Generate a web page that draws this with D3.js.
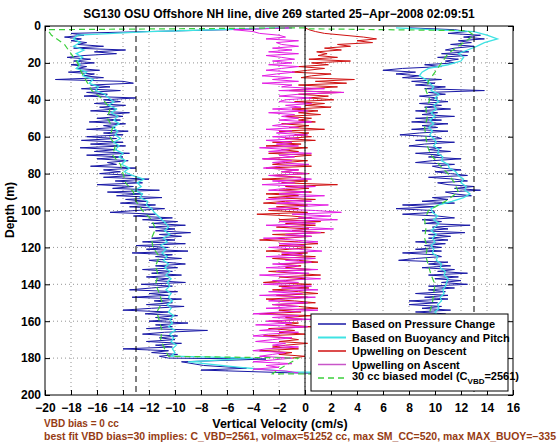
<!DOCTYPE html>
<html><head><meta charset="utf-8">
<script src="https://cdn.jsdelivr.net/npm/d3@7"></script>
<style>
body{margin:0;background:#fff;}
svg{display:block;font-family:"Liberation Sans",Arial,sans-serif;font-weight:bold;}
</style></head>
<body><svg id="c" width="560" height="442"></svg>
<script>
// ---------------- data (velocity in cm/s, depth in m) ----------------
const xTicks = [-20,-18,-16,-14,-12,-10,-8,-6,-4,-2,0,2,4,6,8,10,12,14,16];
const yTicks = [0,20,40,60,80,100,120,140,160,180,200];
const limitLines = [-13, 13];

// Based on Pressure Change: descent, one value per metre from 1 m
const blueDescent = [
 -1,-6,-12,-18,-17,-18.5,-17.2,-18,-16.8,-17.5,
 -15.5,-17.8,-13.8,-16.2,-14.5,-17,-18.3,-16.5,-17.8,-16.2,
 -18,-16.8,-17.5,-15.8,-18.2,-16.2,-17,-15.5,-19.2,-14,
 -13.2,-16.5,-15,-17.2,-14.2,-16.8,-15.2,-17,-13,-15.5,
 -14.2,-16.2,-13.8,-15.8,-14.5,-16.5,-13.5,-15.2,-14,-16,
 -14.2,-16.6,-13.8,-15.5,-14.6,-16.8,-13.6,-15.5,-14,-16.8,
 -14.5,-17.2,-14,-16.5,-13.8,-17.3,-14.5,-16.2,-13.5,-16.8,
 -14,-16,-13.6,-15.2,-14.5,-16.5,-13,-15.5,-14.2,-15.8,
 -13.2,-15.5,-12,-14.6,-12.5,-16,-13.2,-14.8,-11.2,-15.2,
 -12.5,-14.5,-11,-13.8,-12.2,-14.2,-11.5,-13.5,-10.8,-13,
 -15,-11.5,-13.2,-10.2,-12.5,-9.8,-11.8,-9.2,-12,-10,
 -11.5,-8.8,-11.2,-9.5,-11.8,-10,-12.5,-9.2,-13,-10.5,
 -12.2,-9,-13.3,-10.2,-11.5,-9.5,-12,-10.8,-9.2,-11.5,
 -9.8,-12.5,-10.2,-11.8,-9.5,-12.2,-10.5,-11.5,-9.2,-12.6,
 -10.2,-11.8,-13.5,-9.8,-12,-10.5,-13.3,-9.5,-11.6,-10.2,
 -12.2,-9.3,-11.8,-14,-10.5,-12.3,-9.8,-11.5,-10.2,-12,
 -9,-11.5,-10.2,-12.2,-7.5,-10.8,-12.5,-9.8,-11.2,-10,
 -12.2,-9.5,-11.5,-10.2,-14,-10.5,-11.8,-9.8,-11.2,-10.5];
// turnaround at the bottom [depth, velocity]
const blueApogee = [[180.5,-3],[182,-9.5],[184,-7.8],[185.5,-4.5],[186.5,-8],[188,-1],[189,9]];
// ascent, one value per metre from 1 m
const blueAscent = [
 8,11.5,12.5,11,13.5,12.2,13.8,11.8,12.8,11.2,
 13,11.5,10.8,12.6,10.5,12.5,10.2,11.8,10.8,11.5,
 9.2,10.5,7.5,6,8.5,7,8.8,7.5,10.5,8.2,
 10,8.5,10.8,9.2,13.8,9.5,10.8,8.8,10.2,9.5,
 11,8.8,10.5,9.2,11.2,8.5,10.2,9,11.5,8.5,
 10.5,8.2,11,9,10.2,8.2,11,8.8,7.3,10,
 10.5,8.5,11.5,9.2,8,10.5,9.5,11.2,8.5,10.5,
 9.5,12,9.8,8.5,11.5,9.8,10.5,12,10,11.2,
 12.5,9.5,11.5,12.5,10.2,11,13,11.5,13.5,10.8,
 11.5,12.8,9.8,11,9,11.5,7.5,10,7,9.8,
 10,7.5,10.2,11.5,9,10.5,9.2,12.7,9.8,11,
 9,12.3,9.5,11.2,9.5,11,8.5,10.8,9.2,10.5,
 8.5,10.5,7.5,10,10.5,8.5,7.2,11,9.5,11.2,
 9,11.5,10.2,12.5,9.5,11.8,10,12,10.5,12.5,
 9.5,11.5,9.5,10.8,8.5,11,9.2,11,8,10.2,
 8,10.5,9,11.2,8.5,10.8,11,9,10.5,9.2,
 10.5,9,11,9.5,11.2,9.5,10.5,9,11,9.5,
 9,11,9.5,10.8,9.5,10.5,9.2,10.5,9.5,10.2,
 10,9,10.5,8.5,8,6,4,2];

// Based on Buoyancy and Pitch, one value every 2 m from 1 m
const cyanDescent = [
 -2,-12,-17.5,-17.8,-17.3,-17.8,-17,-17.6,-17.1,-17.5,
 -17.3,-17.6,-16.8,-17.1,-16.3,-16.6,-15.9,-16.1,-15.4,-15.1,
 -14.7,-15.1,-14.5,-14.9,-14.4,-14.7,-14.3,-14.8,-14.4,-14.6,
 -14.2,-14.7,-14.3,-14.6,-14.0,-14.3,-13.8,-14.1,-13.5,-13.9,
 -13.3,-12.4,-12.9,-12.6,-13.1,-12.5,-12.7,-12.1,-12.2,-11.8,
 -11.6,-11.3,-11,-10.7,-10.5,-10.8,-10.4,-10.9,-10.6,-11.1,
 -10.7,-11,-10.6,-10.9,-10.5,-10.8,-10.4,-10.7,-10.3,-10.6,
 -10.4,-10.7,-10.3,-10.5,-10.2,-10.6,-10.3,-10.5,-10.1,-10.4,
 -10.2,-10.5,-10,-10.4,-10.1,-10.3,-9.9,-10.2,-10,-10.3];
const cyanApogee = [[180,-4],[182,-9],[185,-5],[187.5,-1],[188.5,8]];
const cyanAscent = [
 7,13,14,14.8,13.8,13.2,12.5,11.8,12.2,12,
 11,9.5,9,8.8,9.3,9.6,9.9,9.7,10.3,10,
 10.3,9.9,10.1,9.7,10,9.6,9.9,9.5,9.8,9.6,
 9.9,10.1,9.9,10.3,10.2,10.6,10.5,11,11.1,11.6,
 11.8,12.2,12,12.4,12.3,12.7,12.2,11.3,10.3,9.7,
 9.8,10.2,9.9,10.3,10,9.7,10.1,9.8,10,9.7,
 9.9,9.8,10.2,10.1,10.5,10.4,10.8,10.7,11,10.9,
 10.8,10.6,10.7,10.4,10.5,10.2,10.3,10,10.2,10,
 10.1,9.9,10.2,10,10.1,9.8,10,9.9,10.1,10,
 9.6,9,8,6];

// Upwelling on Descent, one value per metre from 1 m
const redDescent = [
 0,0.3,0.8,1.5,3,4.5,5.5,4,5.2,2.5,
 3.5,1.5,2.8,0.9,1.7,1,2.5,0.3,3.5,0.5,
 1.8,-0.5,1.5,0.2,-1,2,0.5,-0.3,3.8,0.8,
 3.2,-0.5,2.5,0.2,-1.2,2.8,-0.5,1.8,0.3,2.2,
 -0.8,1.5,0,2,-1,1,-0.5,1.2,-1.5,0.5,
 -0.5,0.8,-1.8,0.3,-1.2,1.5,-2,0.3,-0.8,0.5,
 -1.5,0.8,-2.5,-0.3,-3,0.2,-1.8,-0.5,-2.8,0.5,
 -1.2,-3.2,0.2,-1.5,-2.5,0.5,-3,-0.5,-1.8,0.3,
 -2.5,-0.3,-3.3,0.2,-1.8,2.5,-1.5,0.3,-2,0.5,
 -3,-0.5,-2.8,0.8,-1.5,-3.2,0.2,-2.2,-0.5,-2.8,
 0.2,-3.7,-1,0.5,-2,1.2,-1.5,0.8,-2.2,0.3,
 -1,1.5,-2.5,0.5,-1.5,-3.5,-0.5,1,-2,0.5,
 -1.2,-3,0.2,-1.8,0.8,-2.5,-0.5,1,-2,-0.3,
 -1.5,0.5,-2.8,-0.8,1.2,-2,0,-1.5,-3.2,0.5,
 -2,0.3,-2.5,-0.5,1,-2.2,0.2,-3,-0.8,0.8,
 -2.5,-0.5,1,-2,-0.3,-3.5,0.5,-1.5,-0.2,-2.8,
 -0.5,-1.5,0.5,-2.8,-0.8,-2,0,-3.2,-1.5,-0.5,
 -2,0.2,-1.5,-2.5,-0.5,-3.5,-1,-2,0,-1];

// Upwelling on Ascent, one value per metre from 1 m
const magentaAscent = [
 -1,-5.5,-4,-3.5,-2,-1.5,-3,-0.5,-2.2,-1.8,
 -0.5,-2.5,-1,-2.8,-0.5,-3,-1.8,-0.8,-2.5,-1,
 -2.8,-0.5,-1.8,-3,-0.8,-2.2,-3.3,-1,-2.5,-0.5,
 -3.3,-1,-1.8,1.5,-2,3,-0.5,-2,0.5,-1.5,
 -2,0.5,-1.5,-0.3,-2.5,0.2,-2.8,-0.8,-1.8,-0.5,
 -2,0.5,-1.5,-2.5,-0.5,-3,-1,-2.2,0.2,-2.5,
 -0.5,-3,-1,-2.2,-0.5,-3.5,-1.2,-2.8,0.5,-2,
 -0.8,-3.3,-1,-2.5,0.3,-2,-3.2,-0.5,-1.8,0.2,
 -2.8,-1,0.5,-2.5,-0.8,-3.3,0.8,-1.5,-2.8,0.3,
 -2,1.5,-1.5,-3,0.5,-2.2,1.8,-0.5,-2.8,0.8,
 2.8,-1,2,-0.5,2.5,-2,0.8,-3,-0.3,2.2,
 -2.5,1.2,-1.5,0.5,-3.2,-0.8,1,-2,0,-2.8,
 -0.5,1.3,-1.8,-0.2,-3,0.8,-1.5,0.5,-2.5,-0.5,
 -3,1,-2.2,0.3,-3.5,-1,1.2,-2.5,-0.5,-3.2,
 0.5,-1.8,1,-2.8,-0.2,-3.5,0.8,-1.5,-2.8,0.2,
 -2.5,-0.5,-3,1,-1.8,-4,-0.5,-2.5,0.5,-3,
 -1,-3.8,0.2,-2,-3.5,-0.5,-2.8,-4,-1,-2.5,
 -3.8,-1.5,-2.5,-0.5,-3,-4,-1.5,-2.5,-3.5,-1,
 -2.5,-4,-1,-3,-2,-4,-1.5,-0.5];

// 30 cc biased model, one value every 5 m from 5 m
const greenSurface = [[1,0],[2,-19.8]];
const greenDescent = [-19.5,-18.5,-18,-17.5,-17.2,-16.8,-16.4,-15.5,-15,-15.2,
 -14.8,-15,-14.6,-14.8,-14.2,-14,-13.8,-13.2,-13,-12.5,
 -11.8,-11.5,-11.8,-11.7,-11.2,-11.5,-11.3,-11.5,-11.2,-11,
 -11.4,-11.2,-11,-11.1,-10.8];
const greenApogee = [[179,-10.5],[180,-0.5],[186,-2],[188.5,-2.5],[189,9]];
const greenAscent = [13,12,11,10.5,10,9.5,9.3,9.6,9.3,9.4,
 9.2,9.3,9.4,9.7,10.3,11,11.5,11.8,10.8,9.5,
 9.2,9.3,9.2,9.4,9.3,9.5,9.7,10,9.9,9.8,
 9.6,9.7,9.5,9.6,9.4,9.5,9];
const greenTop = [[2.5,12.5],[1.5,0]];

const legendLabels = ["Based on Pressure Change","Based on Buoyancy and Pitch","Upwelling on Descent","Upwelling on Ascent"];
const titleText = "SG130 OSU Offshore NH line, dive 269 started 25\u2212Apr\u22122008 02:09:51";
const noteLines = ["VBD bias = 0 cc","best fit VBD bias=30 implies: C_VBD=2561, volmax=51252 cc, max SM_CC=520, max MAX_BUOY=\u2212335"];

// ---------------- build series ----------------
const grid = (arr, start, step) => arr.map((v,i)=>[start+i*step, v]);
const bluePts = grid(blueDescent,1,1).concat(blueApogee, grid(blueAscent,1,1).reverse());
const cyanPts = grid(cyanDescent,1,2).concat(cyanApogee, grid(cyanAscent,1,2).reverse());
const redPts = grid(redDescent,1,1);
const magPts = grid(magentaAscent,1,1);
const greenPts = greenSurface.concat(grid(greenDescent,5,5), greenApogee, grid(greenAscent,5,5).reverse(), greenTop);

// ---------------- drawing ----------------
const L=45,R=513,T=26,B=395;
const svg=d3.select("#c");
svg.append("rect").attr("width",560).attr("height",442).attr("fill","#fff");
const x=d3.scaleLinear().domain([-20,16]).range([L,R]);
const y=d3.scaleLinear().domain([0,200]).range([T,B]);

svg.append("defs").append("clipPath").attr("id","clip")
  .append("rect").attr("x",L).attr("y",T).attr("width",R-L).attr("height",B-T);

// grid
const g=svg.append("g").attr("stroke","#777").attr("stroke-width",0.8).attr("stroke-dasharray","1,3");
xTicks.slice(1,-1).forEach(t=>g.append("line").attr("x1",x(t)).attr("x2",x(t)).attr("y1",T).attr("y2",B));
yTicks.slice(1,-1).forEach(t=>g.append("line").attr("x1",L).attr("x2",R).attr("y1",y(t)).attr("y2",y(t)));

const plot=svg.append("g").attr("clip-path","url(#clip)");
const line=d3.line().x(d=>x(d[1])).y(d=>y(d[0]));
plot.append("path").datum(bluePts).attr("d",line).attr("fill","none").attr("stroke","#1818a6").attr("stroke-width",1);
plot.append("path").datum(cyanPts).attr("d",line).attr("fill","none").attr("stroke","#3fe3e3").attr("stroke-width",1.3);
plot.append("path").datum(redPts).attr("d",line).attr("fill","none").attr("stroke","#d01010").attr("stroke-width",1);
plot.append("path").datum(magPts).attr("d",line).attr("fill","none").attr("stroke","#e41ee4").attr("stroke-width",1);
plot.append("path").datum(greenPts).attr("d",line).attr("fill","none").attr("stroke","#3ccf3c").attr("stroke-width",1.2).attr("stroke-dasharray","6,4");

// limit lines and zero line
limitLines.forEach(v=>plot.append("line").attr("x1",x(v)).attr("x2",x(v)).attr("y1",T).attr("y2",B)
  .attr("stroke","#000").attr("stroke-width",1).attr("stroke-dasharray","6,4"));
plot.append("line").attr("x1",x(0)).attr("x2",x(0)).attr("y1",T).attr("y2",B).attr("stroke","#000").attr("stroke-width",1);

// axes
const fmt=d=>d3.format("d")(d);
const ax=(sel)=>{sel.select(".domain").remove();sel.selectAll("line").attr("stroke","#000");sel.selectAll("text").attr("fill","#000").style("font-size","12px").style("font-weight","bold").style("font-family","'Liberation Sans',Arial,sans-serif");};
svg.append("g").attr("transform",`translate(0,${B})`).call(d3.axisBottom(x).tickValues(xTicks).tickSize(-5).tickPadding(8).tickFormat(fmt)).call(ax);
svg.append("g").attr("transform",`translate(0,${T})`).call(d3.axisTop(x).tickValues(xTicks).tickSize(-5).tickFormat("")).call(ax);
svg.append("g").attr("transform",`translate(${L},0)`).call(d3.axisLeft(y).tickValues(yTicks).tickSize(-5).tickPadding(4).tickFormat(fmt)).call(ax);
svg.append("g").attr("transform",`translate(${R},0)`).call(d3.axisRight(y).tickValues(yTicks).tickSize(-5).tickFormat("")).call(ax);
svg.append("rect").attr("x",L).attr("y",T).attr("width",R-L).attr("height",B-T).attr("fill","none").attr("stroke","#000").attr("stroke-width",1);

// legend
const lg=svg.append("g");
lg.append("rect").attr("x",311).attr("y",314).attr("width",197).attr("height",77).attr("fill","#fff").attr("stroke","#000").attr("stroke-width",1);
const legColors=["#1818a6","#3fe3e3","#d01010","#c855c8"];
const rowY=[324,337.5,351,364.5,378];
legendLabels.forEach((t,i)=>{
  lg.append("line").attr("x1",318).attr("x2",346).attr("y1",rowY[i]).attr("y2",rowY[i]).attr("stroke",legColors[i]).attr("stroke-width",i==1?2:1.5);
  lg.append("text").attr("x",352).attr("y",rowY[i]+4).attr("font-size","11px").text(t);
});
lg.append("line").attr("x1",318).attr("x2",346).attr("y1",rowY[4]).attr("y2",rowY[4]).attr("stroke","#3ccf3c").attr("stroke-width",1.5).attr("stroke-dasharray","6,4");
const lt=lg.append("text").attr("x",352).attr("y",rowY[4]+2).attr("font-size","11px");
lt.append("tspan").text("30 cc biased model (C");
lt.append("tspan").attr("font-size","8px").attr("dy",4).text("VBD");
lt.append("tspan").attr("dy",-4).text("=2561)");

// titles
svg.append("text").attr("x",279).attr("y",18).attr("text-anchor","middle").attr("font-size","12px").text(titleText);
svg.append("text").attr("x",280).attr("y",428).attr("text-anchor","middle").attr("font-size","12.5px").text("Vertical Velocity (cm/s)");
svg.append("text").attr("transform","translate(14,210) rotate(-90)").attr("text-anchor","middle").attr("font-size","12px").text("Depth (m)");
svg.append("text").attr("x",44).attr("y",427).attr("font-size","10px").attr("fill","#963c14").text(noteLines[0]);
svg.append("text").attr("x",44).attr("y",440).attr("font-size","10px").attr("fill","#963c14").attr("textLength",512).attr("lengthAdjust","spacingAndGlyphs").text(noteLines[1]);
</script></body></html>
